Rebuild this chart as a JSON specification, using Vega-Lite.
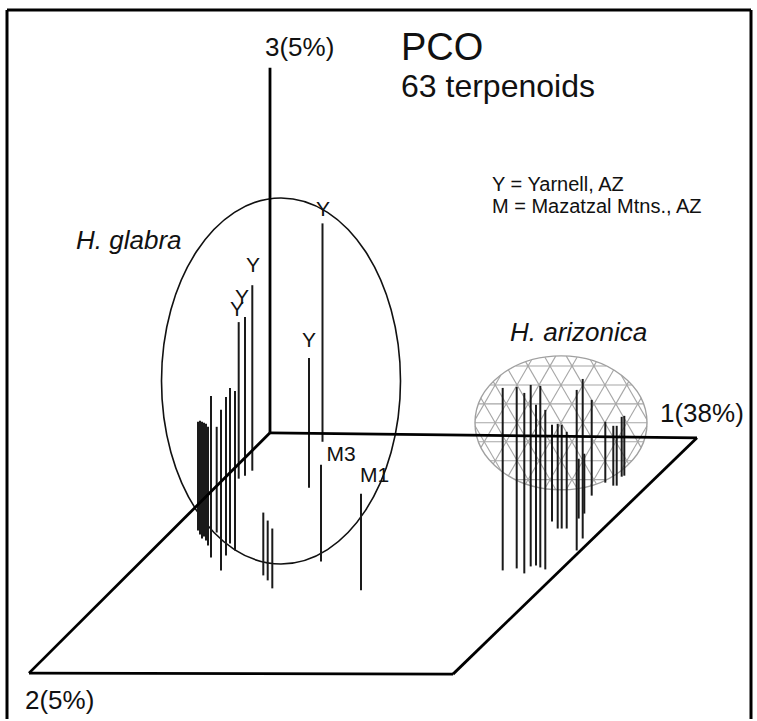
{
  "$schema": "https://vega.github.io/schema/vega-lite/v6.json",
  "width": 757,
  "height": 721,
  "autosize": {"type": "fit", "contains": "padding"},
  "padding": 0,
  "background": "white",
  "config": {"view": {"stroke": null}},
  "datasets": {
    "frame": [
      {"x": 7, "y": 10, "x2": 751, "y2": 10},
      {"x": 7, "y": 10, "x2": 7, "y2": 721},
      {"x": 751, "y": 10, "x2": 751, "y2": 721}
    ],
    "axes": [
      {"x": 270, "y": 68, "x2": 270, "y2": 434},
      {"x": 270, "y": 434, "x2": 697, "y2": 439},
      {"x": 697, "y": 439, "x2": 453, "y2": 676},
      {"x": 453, "y": 676, "x2": 29, "y2": 675},
      {"x": 29, "y": 675, "x2": 270, "y2": 434}
    ],
    "mesh": [
      {"x": 515.8, "y": 367, "x2": 606.2, "y2": 367},
      {"x": 490.2, "y": 386, "x2": 631.8, "y2": 386},
      {"x": 478.5, "y": 405, "x2": 643.5, "y2": 405},
      {"x": 475, "y": 424, "x2": 647, "y2": 424},
      {"x": 478.5, "y": 443, "x2": 643.5, "y2": 443},
      {"x": 490.2, "y": 462, "x2": 631.8, "y2": 462},
      {"x": 515.8, "y": 481, "x2": 606.2, "y2": 481},
      {"x": 596.3, "y": 485.1, "x2": 525.7, "y2": 362.9},
      {"x": 613.6, "y": 477.0, "x2": 544.9, "y2": 358.2},
      {"x": 508.4, "y": 371.0, "x2": 577.1, "y2": 489.8},
      {"x": 628.7, "y": 465.3, "x2": 566.3, "y2": 357.1},
      {"x": 493.3, "y": 382.7, "x2": 555.7, "y2": 490.9},
      {"x": 641.0, "y": 448.6, "x2": 590.5, "y2": 361.1},
      {"x": 481.0, "y": 399.4, "x2": 531.5, "y2": 486.9},
      {"x": 646.9, "y": 420.8, "x2": 621.1, "y2": 376.1},
      {"x": 475.1, "y": 427.2, "x2": 500.9, "y2": 471.9},
      {"x": 525.7, "y": 485.1, "x2": 596.3, "y2": 362.9},
      {"x": 508.4, "y": 477.0, "x2": 577.1, "y2": 358.2},
      {"x": 613.6, "y": 371.0, "x2": 544.9, "y2": 489.8},
      {"x": 493.3, "y": 465.3, "x2": 555.7, "y2": 357.1},
      {"x": 628.7, "y": 382.7, "x2": 566.3, "y2": 490.9},
      {"x": 481.0, "y": 448.6, "x2": 531.5, "y2": 361.1},
      {"x": 641.0, "y": 399.4, "x2": 590.5, "y2": 486.9},
      {"x": 475.1, "y": 420.8, "x2": 500.9, "y2": 376.1},
      {"x": 646.9, "y": 427.2, "x2": 621.1, "y2": 471.9}
    ],
    "dome": [{"x": 561, "y": 424}],
    "glabra": [{"x": 281, "y": 382}],
    "samples": [
      {"x": 198, "top": 423, "bottom": 532},
      {"x": 200, "top": 422, "bottom": 536},
      {"x": 202, "top": 423, "bottom": 540},
      {"x": 204, "top": 424, "bottom": 538},
      {"x": 206, "top": 425, "bottom": 542},
      {"x": 208, "top": 428, "bottom": 547},
      {"x": 211, "top": 397, "bottom": 559},
      {"x": 216.7, "top": 428, "bottom": 534},
      {"x": 221, "top": 411, "bottom": 572},
      {"x": 226, "top": 398, "bottom": 557},
      {"x": 230, "top": 389, "bottom": 545},
      {"x": 235, "top": 392, "bottom": 552},
      {"x": 238.7, "top": 323, "bottom": 480},
      {"x": 245, "top": 318, "bottom": 477},
      {"x": 252.3, "top": 286, "bottom": 472},
      {"x": 263.3, "top": 514, "bottom": 577},
      {"x": 267.7, "top": 522, "bottom": 582},
      {"x": 272.3, "top": 530, "bottom": 590},
      {"x": 309, "top": 359, "bottom": 489},
      {"x": 322.5, "top": 224, "bottom": 443},
      {"x": 321, "top": 466, "bottom": 563},
      {"x": 361, "top": 495, "bottom": 592},
      {"x": 502.7, "top": 389, "bottom": 572},
      {"x": 516.7, "top": 388, "bottom": 570},
      {"x": 524.3, "top": 394, "bottom": 575},
      {"x": 530.7, "top": 386, "bottom": 568},
      {"x": 536, "top": 406, "bottom": 567},
      {"x": 540.3, "top": 387, "bottom": 569},
      {"x": 545.3, "top": 411, "bottom": 571},
      {"x": 552, "top": 426, "bottom": 523},
      {"x": 557.7, "top": 425, "bottom": 530},
      {"x": 561.7, "top": 426, "bottom": 530},
      {"x": 566.7, "top": 433, "bottom": 530},
      {"x": 576.7, "top": 391, "bottom": 552},
      {"x": 578.7, "top": 460, "bottom": 520},
      {"x": 582.7, "top": 380, "bottom": 540},
      {"x": 584.3, "top": 455, "bottom": 515},
      {"x": 591.7, "top": 401, "bottom": 497},
      {"x": 605.3, "top": 423, "bottom": 484},
      {"x": 613.3, "top": 427, "bottom": 487},
      {"x": 616.7, "top": 427, "bottom": 487},
      {"x": 621.7, "top": 418, "bottom": 478},
      {"x": 624.3, "top": 417, "bottom": 477}
    ],
    "axisLabels": [
      {"x": 265, "y": 56, "label": "3(5%)"},
      {"x": 660, "y": 423, "label": "1(38%)"},
      {"x": 25, "y": 711, "label": "2(5%)"}
    ],
    "title": [{"x": 401, "y": 60, "label": "PCO"}],
    "subtitle": [{"x": 401, "y": 97, "label": "63 terpenoids"}],
    "legend": [
      {"x": 492, "y": 192, "label": "Y = Yarnell, AZ"},
      {"x": 492, "y": 214, "label": "M = Mazatzal Mtns., AZ"}
    ],
    "species": [
      {"x": 76, "y": 250, "label": "H. glabra"},
      {"x": 510, "y": 342, "label": "H. arizonica"}
    ],
    "pointLabels": [
      {"x": 323, "y": 216.5, "label": "Y"},
      {"x": 253, "y": 273, "label": "Y"},
      {"x": 242, "y": 305, "label": "Y"},
      {"x": 237, "y": 316.5, "label": "Y"},
      {"x": 309, "y": 348, "label": "Y"},
      {"x": 341, "y": 462, "label": "M3"},
      {"x": 374.5, "y": 483, "label": "M1"}
    ]
  },
  "layer": [
    {
      "data": {"name": "frame"},
      "mark": {"type": "rule", "color": "#000000", "strokeWidth": 3},
      "encoding": {
        "x": {"field": "x", "type": "quantitative", "scale": {"domain": [0, 757], "nice": false, "zero": false}, "axis": null},
        "y": {"field": "y", "type": "quantitative", "scale": {"domain": [0, 721], "reverse": true, "nice": false, "zero": false}, "axis": null},
        "x2": {"field": "x2"},
        "y2": {"field": "y2"}
      }
    },
    {
      "data": {"name": "mesh"},
      "mark": {"type": "rule", "color": "#a6a6a6", "strokeWidth": 1.1},
      "encoding": {
        "x": {"field": "x", "type": "quantitative", "axis": null},
        "y": {"field": "y", "type": "quantitative", "axis": null},
        "x2": {"field": "x2"},
        "y2": {"field": "y2"}
      }
    },
    {
      "data": {"name": "dome"},
      "mark": {"type": "point", "filled": false, "opacity": 1, "stroke": "#a0a0a0", "strokeWidth": 1.4, "size": 29584,
        "shape": "M0,-0.779C0.5523,-0.779,1,-0.4302,1,0C1,0.4302,0.5523,0.779,0,0.779C-0.5523,0.779,-1,0.4302,-1,0C-1,-0.4302,-0.5523,-0.779,0,-0.779Z"},
      "encoding": {
        "x": {"field": "x", "type": "quantitative", "axis": null},
        "y": {"field": "y", "type": "quantitative", "axis": null}
      }
    },
    {
      "data": {"name": "glabra"},
      "mark": {"type": "point", "filled": false, "opacity": 1, "stroke": "#111111", "strokeWidth": 1.6, "size": 133956,
        "shape": "M0,-1C0.3607,-1,0.653,-0.5523,0.653,0C0.653,0.5523,0.3607,1,0,1C-0.3607,1,-0.653,0.5523,-0.653,0C-0.653,-0.5523,-0.3607,-1,0,-1Z"},
      "encoding": {
        "x": {"field": "x", "type": "quantitative", "axis": null},
        "y": {"field": "y", "type": "quantitative", "axis": null}
      }
    },
    {
      "data": {"name": "samples"},
      "mark": {"type": "rule", "color": "#1a1a1a", "strokeWidth": 2},
      "encoding": {
        "x": {"field": "x", "type": "quantitative", "axis": null},
        "y": {"field": "top", "type": "quantitative", "axis": null},
        "y2": {"field": "bottom"}
      }
    },
    {
      "data": {"name": "axes"},
      "mark": {"type": "rule", "color": "#000000", "strokeWidth": 2.8},
      "encoding": {
        "x": {"field": "x", "type": "quantitative", "axis": null},
        "y": {"field": "y", "type": "quantitative", "axis": null},
        "x2": {"field": "x2"},
        "y2": {"field": "y2"}
      }
    },
    {
      "data": {"name": "axisLabels"},
      "mark": {"type": "text", "align": "left", "baseline": "alphabetic", "font": "Liberation Sans", "fontSize": 26, "color": "#111111"},
      "encoding": {
        "x": {"field": "x", "type": "quantitative", "axis": null},
        "y": {"field": "y", "type": "quantitative", "axis": null},
        "text": {"field": "label"}
      }
    },
    {
      "data": {"name": "title"},
      "mark": {"type": "text", "align": "left", "baseline": "alphabetic", "font": "Liberation Sans", "fontSize": 38, "color": "#111111"},
      "encoding": {
        "x": {"field": "x", "type": "quantitative", "axis": null},
        "y": {"field": "y", "type": "quantitative", "axis": null},
        "text": {"field": "label"}
      }
    },
    {
      "data": {"name": "subtitle"},
      "mark": {"type": "text", "align": "left", "baseline": "alphabetic", "font": "Liberation Sans", "fontSize": 32, "color": "#111111"},
      "encoding": {
        "x": {"field": "x", "type": "quantitative", "axis": null},
        "y": {"field": "y", "type": "quantitative", "axis": null},
        "text": {"field": "label"}
      }
    },
    {
      "data": {"name": "legend"},
      "mark": {"type": "text", "align": "left", "baseline": "alphabetic", "font": "Liberation Sans", "fontSize": 20, "color": "#111111"},
      "encoding": {
        "x": {"field": "x", "type": "quantitative", "axis": null},
        "y": {"field": "y", "type": "quantitative", "axis": null},
        "text": {"field": "label"}
      }
    },
    {
      "data": {"name": "species"},
      "mark": {"type": "text", "align": "left", "baseline": "alphabetic", "font": "Liberation Sans", "fontStyle": "italic", "fontSize": 26, "color": "#111111"},
      "encoding": {
        "x": {"field": "x", "type": "quantitative", "axis": null},
        "y": {"field": "y", "type": "quantitative", "axis": null},
        "text": {"field": "label"}
      }
    },
    {
      "data": {"name": "pointLabels"},
      "mark": {"type": "text", "align": "center", "baseline": "alphabetic", "font": "Liberation Sans", "fontSize": 21, "color": "#111111"},
      "encoding": {
        "x": {"field": "x", "type": "quantitative", "axis": null},
        "y": {"field": "y", "type": "quantitative", "axis": null},
        "text": {"field": "label"}
      }
    }
  ]
}
